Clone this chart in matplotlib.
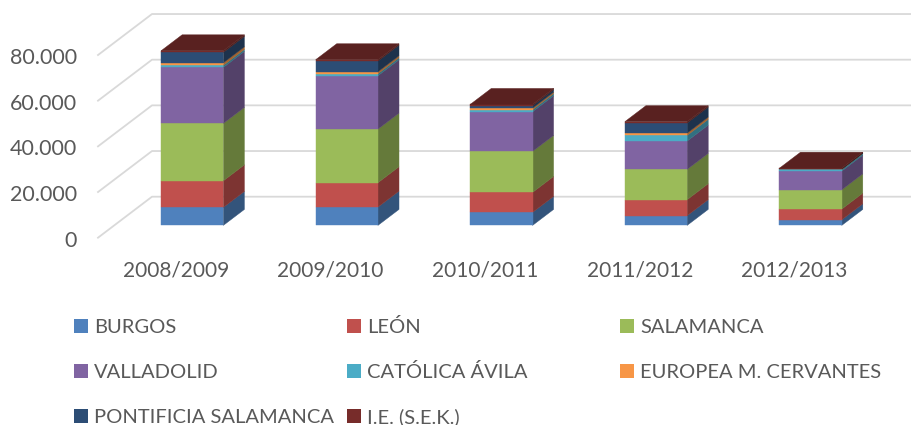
import numpy as np
import matplotlib
matplotlib.use("Agg")
import matplotlib.pyplot as plt
from matplotlib.patches import Polygon, Rectangle
from matplotlib.transforms import ScaledTranslation

plt.rcParams["font.family"] = ["Lato", "DejaVu Sans"]

# Data
cursos = ["2008/2009", "2009/2010", "2010/2011", "2011/2012", "2012/2013"]
burgos = [7880, 8010, 5690, 4250, 2450]
leon = [11650, 10680, 8760, 7010, 4690]
salamanca = [25140, 23470, 17950, 13270, 8450]
valladolid = [24520, 23380, 17380, 12390, 8190]
catolica = [880, 880, 880, 2500, 740]
europea = [1140, 880, 700, 1010, 90]
pontificia = [4550, 4640, 1050, 4380, 90]
ie_sek = [700, 610, 570, 610, 350]

nombres = ["BURGOS", "LEÓN", "SALAMANCA", "VALLADOLID", "CATÓLICA ÁVILA",
           "EUROPEA M. CERVANTES", "PONTIFICIA SALAMANCA", "I.E. (S.E.K.)"]
series = [burgos, leon, salamanca, valladolid, catolica, europea, pontificia, ie_sek]
colores = ["#4F81BD", "#C0504D", "#9BBB59", "#8064A2",
           "#4BACC6", "#F79646", "#2C4D75", "#772C2A"]
y_ticks = [0, 20000, 40000, 60000, 80000]
y_labels = ["0", "20.000", "40.000", "60.000", "80.000"]

# Layout in pixels
W, H = 912, 425
PX_CAT = 154.6     # pixels per category
PX_VAL = 45.67 / 20000   # pixels per unit
LEFT_PX, BASE_PX = 98, 237.7

# Depth of the fake 3D box, in data units
DX = 54 / PX_CAT
DY = 41 / PX_VAL
BAR_W = 62.3 / PX_CAT
D0, D1 = 0.30, 0.69  # bar sits between these depths


def darker(color, f):
    r, g, b = matplotlib.colors.to_rgb(color)
    return (r * f, g * f, b * f)


def face(ax, pts, color, z):
    ax.add_patch(Polygon(pts, closed=True, fc=color, ec=color, lw=0.3, zorder=z))


fig = plt.figure(figsize=(W / 100, H / 100), dpi=100)
ax = fig.add_axes([LEFT_PX / W, 1 - BASE_PX / H, 1 - LEFT_PX / W, BASE_PX / H])
ax.set_xlim(-(176 - LEFT_PX) / PX_CAT, (W - 176) / PX_CAT)
ax.set_ylim(0, BASE_PX / PX_VAL)
ax.patch.set_visible(False)
for s in ax.spines.values():
    s.set_visible(False)

ax.set_yticks(y_ticks)
ax.set_yticklabels(y_labels)
ax.set_xticks(range(len(cursos)))
ax.set_xticklabels(cursos)
ax.tick_params(axis="y", length=0, pad=15, labelsize=15.5, labelcolor="#595959")
ax.tick_params(axis="x", length=0, pad=16.5, labelsize=15, labelcolor="#595959")

# y labels sit a little lower than the gridline ends
nudge = ScaledTranslation(0, -1 / 100, fig.dpi_scale_trans)
for lab in ax.get_yticklabels():
    lab.set_transform(lab.get_transform() + nudge)

# Gridlines: slanted on the floor side, flat along the back wall
x_left = ax.get_xlim()[0]
x_right = ax.get_xlim()[1]
for v in y_ticks:
    ax.plot([x_left, x_left + DX, x_right], [v, v + DY, v + DY],
            color="#D9D9D9", lw=1.3, zorder=1, clip_on=False)

# Stacked boxes
for i in range(len(cursos)):
    xl = i + D0 * DX - BAR_W / 2
    xr = xl + BAR_W
    y_front = D0 * DY
    ddx = (D1 - D0) * DX
    ddy = (D1 - D0) * DY
    bottom = 0
    for j in range(len(series)):
        top = bottom + series[j][i]
        y0 = y_front + bottom
        y1 = y_front + top
        face(ax, [(xr, y0), (xr + ddx, y0 + ddy), (xr + ddx, y1 + ddy), (xr, y1)],
             darker(colores[j], 0.65), 3 + j * 0.01)
        face(ax, [(xl, y0), (xr, y0), (xr, y1), (xl, y1)], colores[j], 4 + j * 0.01)
        bottom = top
    y_top = y_front + bottom
    face(ax, [(xl, y_top), (xr, y_top), (xr + ddx, y_top + ddy), (xl + ddx, y_top + ddy)],
         darker(colores[-1], 0.75), 5)

# Legend placed by hand: the columns are not evenly spaced, baseline = swatch bottom
col_x = [74, 347, 620]
row_y = [333, 378, 423]
for k in range(len(nombres)):
    sx = col_x[k % 3]
    sy = row_y[k // 3]
    fig.add_artist(Rectangle((sx / W, 1 - sy / H), 14 / W, 14 / H, fc=colores[k], ec="none",
                             transform=fig.transFigure))
    fig.text((sx + 20) / W, 1 - sy / H, nombres[k], fontsize=14.5, color="#595959",
             ha="left", va="baseline")

fig.savefig("out.png", dpi=100)
